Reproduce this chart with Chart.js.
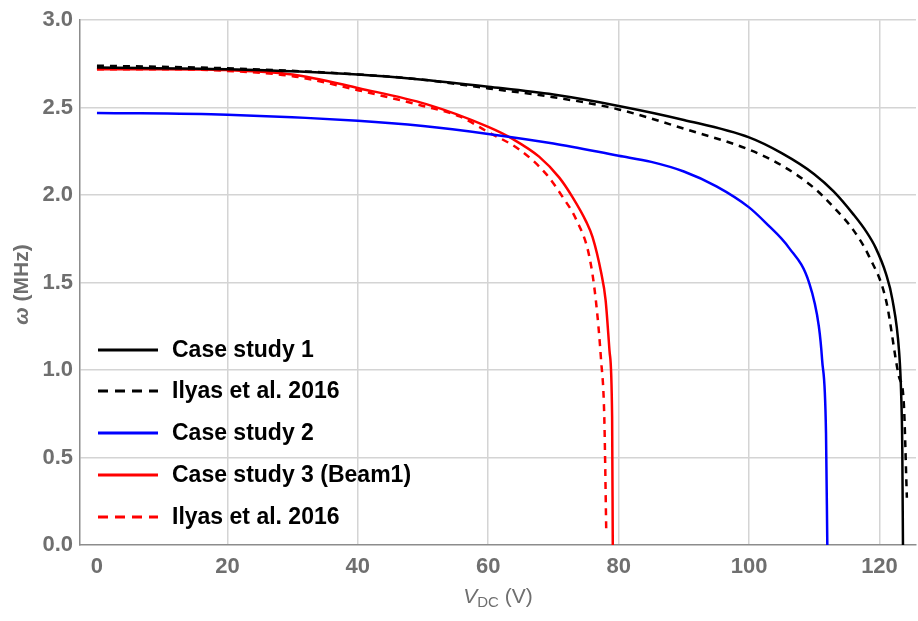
<!DOCTYPE html>
<html>
<head>
<meta charset="utf-8">
<script src="https://cdn.jsdelivr.net/npm/chart.js@4/dist/chart.umd.min.js"></script>
<style>
  html, body { margin: 0; padding: 0; background: #fff; }
  #wrap { width: 918px; height: 621px; }
</style>
</head>
<body>
<div id="wrap"><canvas id="freqChart"></canvas></div>
<script>
// values (V in volts, omega in MHz)
const vCase1 = [0, 20, 40, 50, 60, 70, 80, 90, 100, 105, 110, 113, 116, 118, 119.4, 121, 122, 123, 123.3, 123.5, 123.6];
const wCase1 = [2.73, 2.72, 2.69, 2.66, 2.62, 2.575, 2.51, 2.43, 2.33, 2.24, 2.12, 2.02, 1.89, 1.79, 1.70, 1.55, 1.40, 1.11, 0.89, 0.54, 0];

const vIlyas1 = [0, 20, 40, 50, 60, 70, 80, 90, 100, 105, 110, 113, 116, 118.4, 121, 123, 123.7, 124.2];
const wIlyas1 = [2.74, 2.725, 2.69, 2.66, 2.61, 2.56, 2.49, 2.38, 2.26, 2.17, 2.04, 1.93, 1.80, 1.65, 1.40, 0.96, 0.83, 0.27];

const vCase2 = [0, 20, 40, 50, 60, 70, 80, 85, 90, 95, 100, 102.6, 106.1, 109.2, 110.7, 111.2, 111.8, 112];
const wCase2 = [2.47, 2.46, 2.425, 2.395, 2.35, 2.295, 2.225, 2.19, 2.135, 2.05, 1.93, 1.84, 1.70, 1.50, 1.25, 1.06, 0.64, 0];

const vCase3 = [0, 10, 20, 30, 40.3, 50.5, 60, 63.8, 67.8, 70.9, 72.9, 75, 76, 77.3, 78, 78.6, 79, 79.1];
const wCase3 = [2.72, 2.72, 2.715, 2.69, 2.61, 2.52, 2.39, 2.32, 2.22, 2.10, 1.99, 1.85, 1.76, 1.56, 1.40, 1.11, 0.73, 0];

const vIlyas3 = [0, 10, 20, 30, 40, 50, 55.6, 60, 64.8, 68.9, 71.4, 73.5, 75.5, 76.5, 77.3, 77.8, 78.1];
const wIlyas3 = [2.72, 2.72, 2.71, 2.68, 2.60, 2.51, 2.45, 2.36, 2.26, 2.12, 1.99, 1.86, 1.65, 1.40, 1.06, 0.73, 0.08];

const seriesNames = ['Case study 1', 'Ilyas et al. 2016', 'Case study 2', 'Case study 3 (Beam1)', 'Ilyas et al. 2016'];
const xTicks = [0, 20, 40, 60, 80, 100, 120];
const yTicks = [0, 0.5, 1.0, 1.5, 2.0, 2.5, 3.0];

function pts(xs, ys) {
  return xs.map((x, i) => ({ x: x, y: ys[i] }));
}

const tickGray = '#6f6f6f';

// legend drawn inside the plot area, lower left
const insideLegend = {
  id: 'insideLegend',
  afterDatasetsDraw(chart) {
    const ctx = chart.ctx;
    const rows = [350, 391, 433, 475, 517];
    ctx.save();
    chart.data.datasets.forEach((ds, i) => {
      const y = rows[i];
      ctx.beginPath();
      ctx.strokeStyle = ds.borderColor;
      ctx.lineWidth = 3;
      ctx.setLineDash(ds.borderDash && ds.borderDash.length ? [10, 7] : []);
      ctx.moveTo(98, y);
      ctx.lineTo(158, y);
      ctx.stroke();
      ctx.setLineDash([]);
      ctx.fillStyle = '#000';
      ctx.font = 'bold 23px "Liberation Sans", Arial, sans-serif';
      ctx.textBaseline = 'middle';
      ctx.textAlign = 'left';
      ctx.fillText(ds.label, 172, y + 1);
    });
    ctx.restore();
  }
};

// axis titles with italic symbol and subscript
const axisTitles = {
  id: 'axisTitles',
  afterDraw(chart) {
    const ctx = chart.ctx;
    const area = chart.chartArea;
    ctx.save();
    ctx.fillStyle = tickGray;
    ctx.textBaseline = 'alphabetic';

    // x title: V_DC (V)
    const cx = (area.left + area.right) / 2;
    const base = 603;
    const fItal = 'italic 21px "Liberation Sans", Arial, sans-serif';
    const fSub = '15px "Liberation Sans", Arial, sans-serif';
    const fReg = '21px "Liberation Sans", Arial, sans-serif';
    ctx.font = fItal; const wV = ctx.measureText('V').width;
    ctx.font = fSub; const wDC = ctx.measureText('DC').width;
    ctx.font = fReg; const wRest = ctx.measureText(' (V)').width;
    let x = cx - (wV + wDC + wRest) / 2;
    ctx.textAlign = 'left';
    ctx.font = fItal; ctx.fillText('V', x, base); x += wV;
    ctx.font = fSub; ctx.fillText('DC', x, base + 4); x += wDC;
    ctx.font = fReg; ctx.fillText(' (V)', x, base);

    // y title: omega (MHz)
    ctx.translate(28, (area.top + area.bottom) / 2 + 2);
    ctx.rotate(-Math.PI / 2);
    const fOm = 'italic bold 21px "Liberation Sans", Arial, sans-serif';
    const fMHz = 'bold 21px "Liberation Sans", Arial, sans-serif';
    ctx.font = fOm; const wO = ctx.measureText('ω').width;
    ctx.font = fMHz; const wM = ctx.measureText(' (MHz)').width;
    let y0 = -(wO + wM) / 2;
    ctx.font = fOm; ctx.fillText('ω', y0, 0);
    ctx.font = fMHz; ctx.fillText(' (MHz)', y0 + wO, 0);
    ctx.restore();
  }
};

const gridColor = (c) => (c.tick && c.tick.value === 0 ? 'rgba(0,0,0,0)' : '#d4d4d4');

const ctx = document.getElementById('freqChart');

new Chart(ctx, {
  type: 'line',
  data: {
    datasets: [
      {
        label: seriesNames[0],
        data: pts(vCase1, wCase1),
        borderColor: '#000000',
        borderWidth: 2.5,
        borderDash: []
      },
      {
        label: seriesNames[1],
        data: pts(vIlyas1, wIlyas1),
        borderColor: '#000000',
        borderWidth: 2.5,
        borderDash: [7, 6]
      },
      {
        label: seriesNames[2],
        data: pts(vCase2, wCase2),
        borderColor: '#0000ff',
        borderWidth: 2.5,
        borderDash: []
      },
      {
        label: seriesNames[3],
        data: pts(vCase3, wCase3),
        borderColor: '#ff0000',
        borderWidth: 2.5,
        borderDash: []
      },
      {
        label: seriesNames[4],
        data: pts(vIlyas3, wIlyas3),
        borderColor: '#ff0000',
        borderWidth: 2.5,
        borderDash: [7, 6]
      }
    ]
  },
  options: {
    responsive: true,
    maintainAspectRatio: false,
    animation: false,
    layout: { padding: { top: 20, right: 2, left: 0, bottom: 0 } },
    elements: {
      point: { radius: 0 },
      line: { cubicInterpolationMode: 'monotone', fill: false }
    },
    plugins: {
      legend: { display: false },
      tooltip: { enabled: false }
    },
    scales: {
      x: {
        type: 'linear',
        min: -2.6,
        max: 125.6,
        afterBuildTicks: (s) => { s.ticks = xTicks.map(v => ({ value: v })); },
        afterFit: (s) => { s.height = 76; },
        grid: { color: gridColor, lineWidth: 1.5, drawTicks: false },
        border: { color: '#8c8c8c', width: 1.5 },
        ticks: {
          color: tickGray,
          padding: 9,
          maxRotation: 0,
          font: { family: '"Liberation Sans", Arial, sans-serif', size: 22, weight: 'bold' }
        }
      },
      y: {
        type: 'linear',
        min: 0,
        max: 3,
        afterBuildTicks: (s) => { s.ticks = yTicks.map(v => ({ value: v })); },
        afterFit: (s) => { s.width = 80; },
        grid: { color: gridColor, lineWidth: 1.5, drawTicks: false },
        border: { color: '#8c8c8c', width: 1.5 },
        ticks: {
          color: tickGray,
          padding: 7,
          callback: (v) => Number(v).toFixed(1),
          font: { family: '"Liberation Sans", Arial, sans-serif', size: 22, weight: 'bold' }
        }
      }
    }
  },
  plugins: [insideLegend, axisTitles]
});
</script>
</body>
</html>
